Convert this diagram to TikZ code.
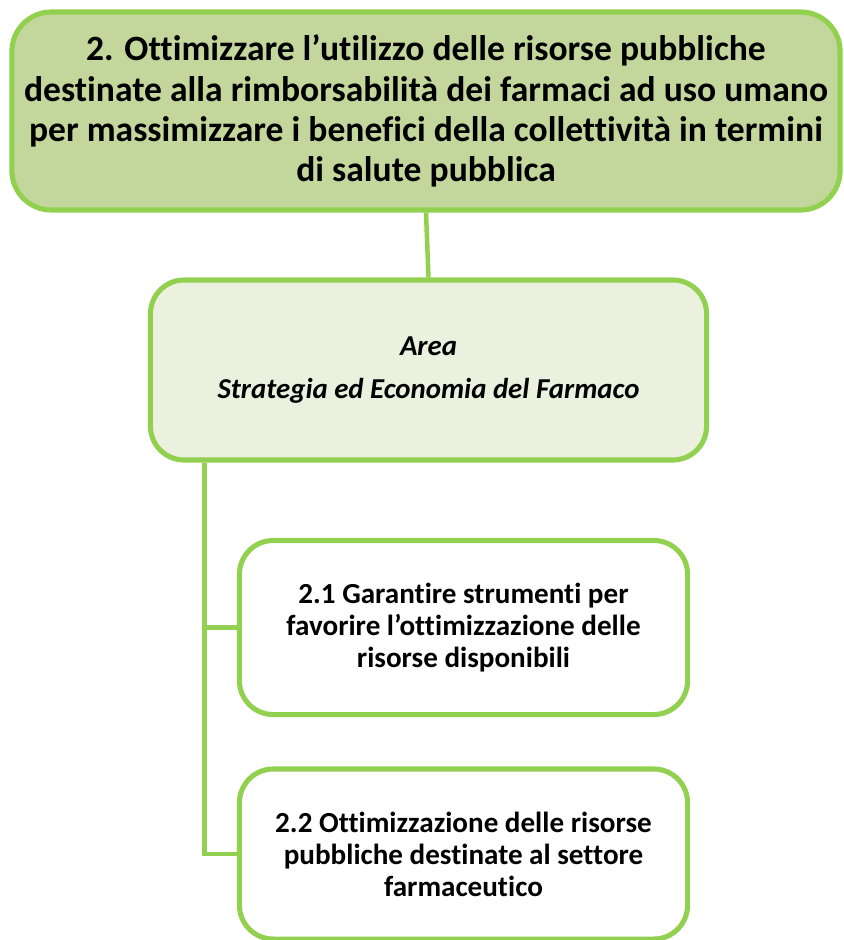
\documentclass[tikz,border=0pt]{standalone}
\usepackage{fontspec}
\setmainfont{Carlito}[Ligatures=CommonOff]
\usetikzlibrary{positioning}
\definecolor{BoxEdge}{RGB}{146,208,80}
\definecolor{GoalFill}{RGB}{195,214,155}
\definecolor{AreaFill}{RGB}{235,241,222}
\tikzset{
	link/.style={BoxEdge, line width=3.2pt},
	goalbox/.style={draw=BoxEdge, fill=GoalFill, line width=3.6pt, rounded corners=28pt,
		align=center, font=\fontsize{25.3}{28.6}\selectfont\bfseries,
		minimum width=20.7cm, minimum height=4.95cm, inner sep=0pt},
	areabox/.style={draw=BoxEdge, fill=AreaFill, line width=3.6pt, rounded corners=24pt,
		align=center, font=\fontsize{20.5}{31}\selectfont\bfseries\itshape,
		minimum width=13.9cm, minimum height=4.5cm, inner sep=0pt},
	subbox/.style={draw=BoxEdge, fill=white, line width=3.6pt, rounded corners=24pt,
		align=center, font=\fontsize{20.7}{22.8}\selectfont\bfseries,
		minimum width=11.2cm, minimum height=4.35cm, inner sep=0pt},
}

\begin{document}
\begin{tikzpicture}[x=0.025cm, y=-0.025cm]
	
	\useasboundingbox (0,0) rectangle (843,940);
	
	% Objective
	\node[goalbox] (goal) at (426,111) {2. Ottimizzare l’utilizzo delle risorse pubbliche\\
		destinate alla rimborsabilità dei farmaci ad uso umano\\
		per massimizzare i benefici della collettività in termini\\
		di salute pubblica};
	
	% Area
	\node[areabox] (area) at (428.5,370) {Area\\Strategia ed Economia del Farmaco};
	
	% Sub-objectives
	\node[subbox] (ob1) at (463.5,627.5) {2.1 Garantire strumenti per\\
		favorire l’ottimizzazione delle\\risorse disponibili};
	\node[subbox, minimum height=4.25cm] (ob2) at (463.5,854) {2.2 Ottimizzazione delle risorse\\
		pubbliche destinate al settore\\farmaceutico};
	
	% Connectors
	\draw[link] (goal.south) -- (area.north);
	\coordinate (trunk) at ([xshift=-5.6cm]area.south);
	\draw[link] (trunk) |- (ob1.west);
	\draw[link] (trunk) |- (ob2.west);
	
\end{tikzpicture}
\end{document}
